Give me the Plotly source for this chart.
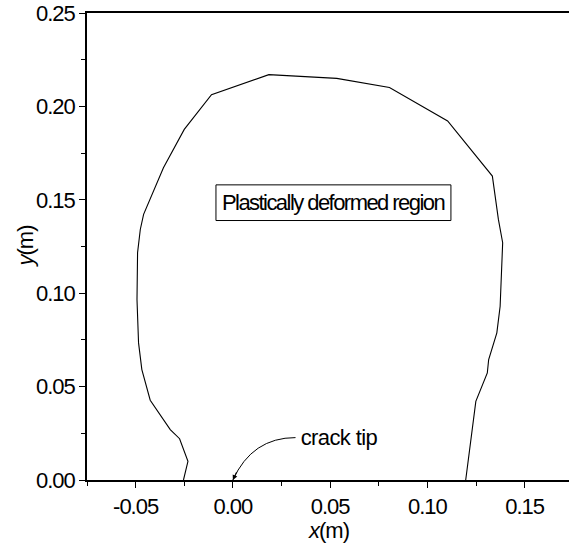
import plotly.graph_objects as go

# Boundary of the plastically deformed region (x, y in metres)
boundary_x = [-0.0254, -0.0231, -0.0274, -0.0322, -0.0425, -0.0468, -0.0485, -0.0493,
              -0.0490, -0.0476, -0.0459, -0.0357, -0.0250, -0.0110, 0.0185, 0.0534,
              0.0805, 0.1104, 0.1334, 0.1365, 0.1387, 0.1374, 0.1357, 0.1315,
              0.1308, 0.1249, 0.1197]
boundary_y = [0.0000, 0.0100, 0.0221, 0.0270, 0.0427, 0.0591, 0.0734, 0.0966,
              0.1217, 0.1341, 0.1422, 0.1672, 0.1877, 0.2063, 0.2170, 0.2150,
              0.2101, 0.1922, 0.1627, 0.1395, 0.1270, 0.0930, 0.0788, 0.0645,
              0.0573, 0.0421, 0.0000]

x_tick_vals = [-0.05, 0.0, 0.05, 0.10, 0.15]
x_tick_text = ["-0.05", "0.00", "0.05", "0.10", "0.15"]
y_tick_vals = [0.0, 0.05, 0.10, 0.15, 0.20, 0.25]
y_tick_text = ["0.00", "0.05", "0.10", "0.15", "0.20", "0.25"]

x_title = "<i>x</i>(m)"
y_title = "<i>y</i>(m)"

region_label = "Plastically deformed region"
region_box_x = [-0.0087, 0.1121]
region_box_y = [0.1389, 0.1580]
crack_label = "crack tip"
crack_label_pos = (0.0322, 0.0227)
crack_tip = (0.0, 0.0)
crack_ctrl = (0.0099, 0.0227)

FONT = "Liberation Sans, Arial, sans-serif"

fig = go.Figure()
fig.add_trace(go.Scatter(x=boundary_x, y=boundary_y, mode="lines",
                         line=dict(color="black", width=1.1), showlegend=False,
                         hoverinfo="skip"))

axis_common = dict(showgrid=False, zeroline=False, linecolor="black", linewidth=1.5,
                   ticks="outside", ticklen=6, tickwidth=1.2, tickcolor="black",
                   automargin=False,
                   tickfont=dict(family=FONT, size=22, color="black"),
                   minor=dict(ticks="outside", ticklen=4, tickwidth=1.2,
                              tickcolor="black", dtick=0.025, tick0=0))

fig.update_layout(
    width=569, height=548,
    margin=dict(l=87, r=0, t=13, b=68),
    paper_bgcolor="white", plot_bgcolor="white",
    font=dict(family=FONT, size=22, color="black"),
    xaxis=dict(range=[-0.075, 0.1728], tickvals=x_tick_vals, ticktext=x_tick_text,
               mirror=True, **axis_common),
    yaxis=dict(range=[0, 0.25], tickvals=y_tick_vals, ticktext=y_tick_text,
               **axis_common),
    xaxis2=dict(overlaying="x", side="top", matches="x", range=[-0.075, 0.1728],
                showgrid=False, zeroline=False, showline=False, ticks="inside",
                ticklen=3, tickcolor="black", dtick=0.025, tick0=0, automargin=False,
                showticklabels=False),
)

# axis titles
fig.add_annotation(x=0.5, y=-0.109, xref="paper", yref="paper", text=x_title,
                   showarrow=False, xanchor="center", yanchor="middle",
                   font=dict(family=FONT, size=22, color="black"))
fig.add_annotation(x=-0.1266, y=0.5, xref="paper", yref="paper", text=y_title,
                   showarrow=False, xanchor="center", yanchor="middle", textangle=-90,
                   font=dict(family=FONT, size=22, color="black"))

# box around the region label
fig.add_shape(type="rect", xref="x", yref="y",
              x0=region_box_x[0], x1=region_box_x[1], y0=region_box_y[0], y1=region_box_y[1],
              line=dict(color="black", width=1), fillcolor="white", layer="above")

# crack tip curved leader
x0, y0 = crack_label_pos
cx, cy = crack_ctrl
x1, y1 = crack_tip
fig.add_shape(type="path", xref="x", yref="y",
              path=f"M {x0},{y0} Q {cx},{cy} {x1},{y1}",
              line=dict(color="black", width=1))
fig.add_annotation(x=x1, y=y1, ax=x1 + 0.0022, ay=y1 + 0.005, axref="x", ayref="y",
                   xref="x", yref="y", text="", showarrow=True, arrowhead=2,
                   arrowsize=1, arrowwidth=1, arrowcolor="black", standoff=0)
fig.add_annotation(x=x0, y=y0, xref="x", yref="y", text=crack_label, showarrow=False,
                   xanchor="left", yanchor="middle",
                   font=dict(family=FONT, size=22, color="black"))
fig.add_annotation(x=sum(region_box_x) / 2, y=sum(region_box_y) / 2, xref="x", yref="y",
                   text=region_label, showarrow=False, xanchor="center", yanchor="middle",
                   font=dict(family=FONT, size=22, color="black"))

post = """
document.body.style.margin = '0';
document.body.style.padding = '0';
document.documentElement.style.overflow = 'hidden';
var gd = document.getElementById('{plot_id}');
function squeeze() {
  gd.querySelectorAll('text').forEach(function (t) { t.style.letterSpacing = '-1px'; });
  gd.querySelectorAll('text.annotation-text').forEach(function (t) {
    if (t.textContent.indexOf('Plastically') >= 0) { t.style.letterSpacing = '-1.55px'; }
    else if (t.textContent.indexOf('crack') >= 0) { t.style.letterSpacing = '-0.6px'; }
  });
}
squeeze();
gd.on('plotly_afterplot', squeeze);
"""

fig.write_html("out.html", post_script=post, config={"displayModeBar": False})
